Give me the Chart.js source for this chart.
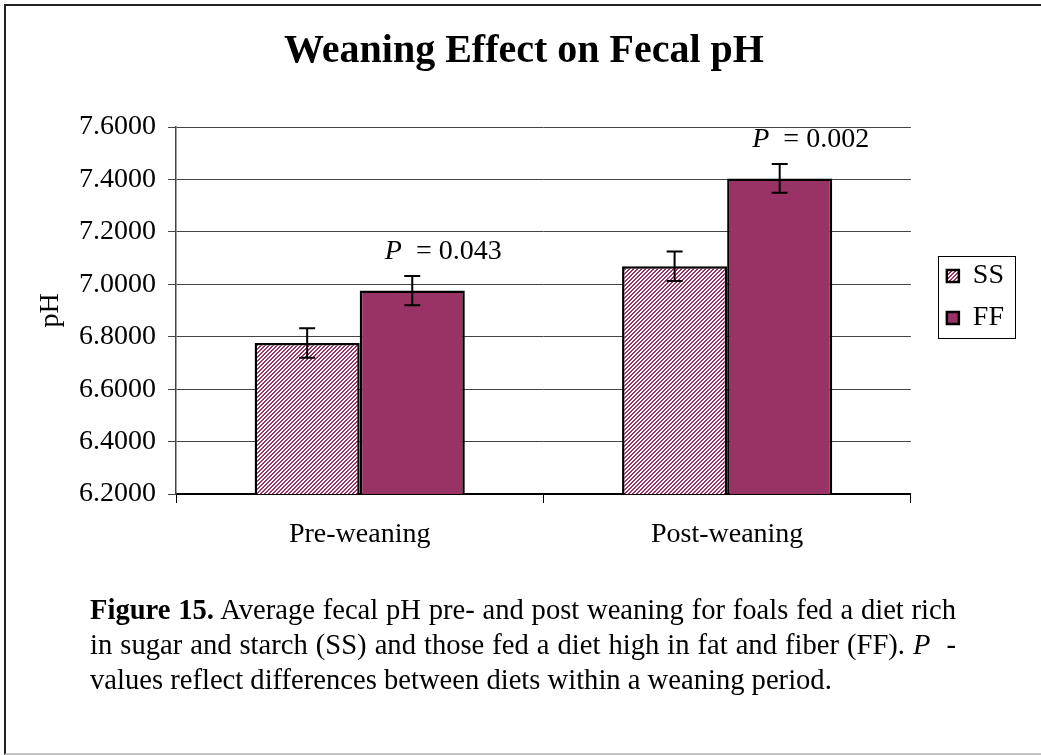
<!DOCTYPE html>
<html>
<head>
<meta charset="utf-8">
<title>Weaning Effect on Fecal pH</title>
<script src="https://cdn.jsdelivr.net/npm/chart.js@4.4.1/dist/chart.umd.min.js"></script>
<style>
  body { margin: 0; background: #fff; }
  #page { position: relative; width: 1041px; height: 755px; overflow: hidden; background: #fff; }
  #frame {
    position: absolute; left: 4px; top: 4px; width: 1100px; height: 751px;
    border-left: 2px solid #222; border-top: 2px solid #222; border-bottom: 2px solid #c4c4c4;
    box-sizing: border-box;
  }
  #trendChart { position: absolute; left: 34px; top: 0; }
  .caption {
    position: absolute; left: 90px; top: 592px; width: 866px;
    font-family: 'Times New Roman', 'Liberation Serif', serif; font-size: 28.6px; line-height: 35px; color: #000;
  }
  .caption div { white-space: nowrap; }
  .caption .j { text-align: justify; text-align-last: justify; }
</style>
</head>
<body>
<div id="page">
  <div id="frame"></div>
  <canvas id="trendChart" width="984" height="594"></canvas>
  <div class="caption">
    <div class="j"><b>Figure 15.</b> Average fecal pH pre- and post weaning for foals fed a diet rich</div>
    <div class="j">in sugar and starch (SS) and those fed a diet high in fat and fiber (FF). <i>P</i>&nbsp; -</div>
    <div>values reflect differences between diets within a weaning period.</div>
  </div>
</div>
<script>
// Chart data
const categories = ['Pre-weaning', 'Post-weaning'];
const ssMeans = [6.776, 7.069];
const ffMeans = [6.976, 7.404];
const ssErrors = [0.056, 0.056];
const ffErrors = [0.056, 0.055];
const pValues = ['0.043', '0.002'];
const yMin = 6.2;
const yMax = 7.6;
const yStep = 0.2;

const serif = "'Times New Roman', 'Liberation Serif', serif";
Chart.defaults.font.family = serif;
Chart.defaults.color = '#000';

// Hatched fill used for the SS bars
function makeHatch() {
    const c = document.createElement('canvas');
    c.width = 4;
    c.height = 4;
    const g = c.getContext('2d');
    g.fillStyle = '#fff';
    g.fillRect(0, 0, 4, 4);
    g.fillStyle = '#993366';
    for (let i = 0; i < 4; i++) {
        g.fillRect((3 - i + 4) % 4, i, 1, 1);
        g.fillRect((4 - i + 4) % 4, i, 1, 1);
    }
    return g.createPattern(c, 'repeat');
}

// Error bars drawn from the y scale
const errorBars = {
    id: 'errorBars',
    afterDatasetsDraw(chart) {
        const ctx = chart.ctx;
        const y = chart.scales.y;
        ctx.save();
        ctx.strokeStyle = '#000';
        ctx.lineWidth = 2;
        chart.data.datasets.forEach((ds, i) => {
            chart.getDatasetMeta(i).data.forEach((bar, j) => {
                const top = y.getPixelForValue(ds.data[j] + ds.errors[j]);
                const bot = y.getPixelForValue(ds.data[j] - ds.errors[j]);
                ctx.beginPath();
                ctx.moveTo(bar.x, top);
                ctx.lineTo(bar.x, bot);
                ctx.moveTo(bar.x - 8, top);
                ctx.lineTo(bar.x + 8, top);
                ctx.moveTo(bar.x - 8, bot);
                ctx.lineTo(bar.x + 8, bot);
                ctx.stroke();
            });
        });
        ctx.restore();
    }
};

// P-value notes above the FF bars
const pLabels = {
    id: 'pLabels',
    afterDatasetsDraw(chart) {
        const ctx = chart.ctx;
        const y = chart.scales.y;
        const meta = chart.getDatasetMeta(1);
        ctx.save();
        ctx.fillStyle = '#000';
        ctx.textBaseline = 'middle';
        ctx.textAlign = 'left';
        meta.data.forEach((bar, j) => {
            const ty = y.getPixelForValue(ffMeans[j] + ffErrors[j]) - 24;
            const rest = '= ' + pValues[j];
            ctx.font = 'italic 28px ' + serif;
            const wP = ctx.measureText('P').width;
            ctx.font = '28px ' + serif;
            const wR = ctx.measureText(rest).width;
            const total = wP + 14 + wR;
            const x0 = bar.x + 31 - total / 2;
            ctx.font = 'italic 28px ' + serif;
            ctx.fillText('P', x0, ty);
            ctx.font = '28px ' + serif;
            ctx.fillText(rest, x0 + wP + 14, ty);
        });
        ctx.restore();
    }
};

// Frame around the legend
const legendFrame = {
    id: 'legendFrame',
    afterDraw(chart) {
        const boxes = chart.legend && chart.legend.legendHitBoxes;
        if (!boxes || !boxes.length) return;
        const ctx = chart.ctx;
        const left = Math.min(...boxes.map(b => b.left)) - 9;
        const right = Math.max(...boxes.map(b => b.left + b.width)) + 11;
        const top = boxes[0].top - 6;
        const last = boxes[boxes.length - 1];
        const bottom = last.top + last.height + 6;
        ctx.save();
        ctx.strokeStyle = '#000';
        ctx.lineWidth = 1;
        ctx.strokeRect(Math.round(left) + 0.5, Math.round(top) + 0.5, Math.round(right - left), Math.round(bottom - top));
        ctx.restore();
    }
};

function initChart() {
    const ctx = document.getElementById('trendChart').getContext('2d');
    new Chart(ctx, {
        type: 'bar',
        data: {
            labels: categories,
            datasets: [
                {
                    label: 'SS',
                    data: ssMeans,
                    errors: ssErrors,
                    backgroundColor: makeHatch(),
                    borderColor: '#000',
                    borderWidth: 2.5,
                    yAxisID: 'y'
                },
                {
                    label: 'FF',
                    data: ffMeans,
                    errors: ffErrors,
                    backgroundColor: '#993366',
                    borderColor: '#000',
                    borderWidth: 2.5,
                    yAxisID: 'y'
                }
            ]
        },
        options: {
            responsive: false,
            animation: false,
            datasets: {
                bar: { categoryPercentage: 0.572, barPercentage: 1.0 }
            },
            layout: { padding: { right: 4 } },
            plugins: {
                title: {
                    display: true,
                    text: 'Weaning Effect on Fecal pH',
                    font: { size: 40, weight: 'bold' },
                    color: '#000',
                    padding: { top: 28, bottom: 51 }
                },
                legend: {
                    position: 'right',
                    labels: {
                        font: { size: 28 },
                        boxWidth: 12,
                        boxHeight: 12,
                        padding: 14,
                        color: '#000'
                    }
                },
                tooltip: { enabled: false }
            },
            scales: {
                x: {
                    grid: { drawOnChartArea: false, drawTicks: true, tickLength: 9, color: '#000' },
                    border: { color: '#000', width: 2 },
                    ticks: { font: { size: 28 }, padding: 15, color: '#000' },
                    afterFit: s => { s.height = 100; }
                },
                y: {
                    min: yMin,
                    max: yMax,
                    ticks: {
                        stepSize: yStep,
                        font: { size: 28 },
                        padding: 12,
                        color: '#000',
                        callback: v => Number(v).toFixed(4)
                    },
                    grid: { color: '#444', tickLength: 8 },
                    border: { color: '#444', width: 1.5 },
                    title: {
                        display: true,
                        text: 'pH',
                        font: { size: 28 },
                        color: '#000',
                        padding: { top: 0, bottom: 0 }
                    },
                    afterFit: s => { s.width = 142; }
                },
                // empty right axis: keeps the gap between plot and legend
                yGap: {
                    type: 'linear',
                    position: 'right',
                    display: true,
                    ticks: { display: false },
                    grid: { display: false },
                    border: { display: false },
                    afterFit: s => { s.width = 22; }
                }
            }
        },
        plugins: [errorBars, pLabels, legendFrame]
    });
}

document.addEventListener('DOMContentLoaded', () => {
    initChart();
});
</script>
</body>
</html>
